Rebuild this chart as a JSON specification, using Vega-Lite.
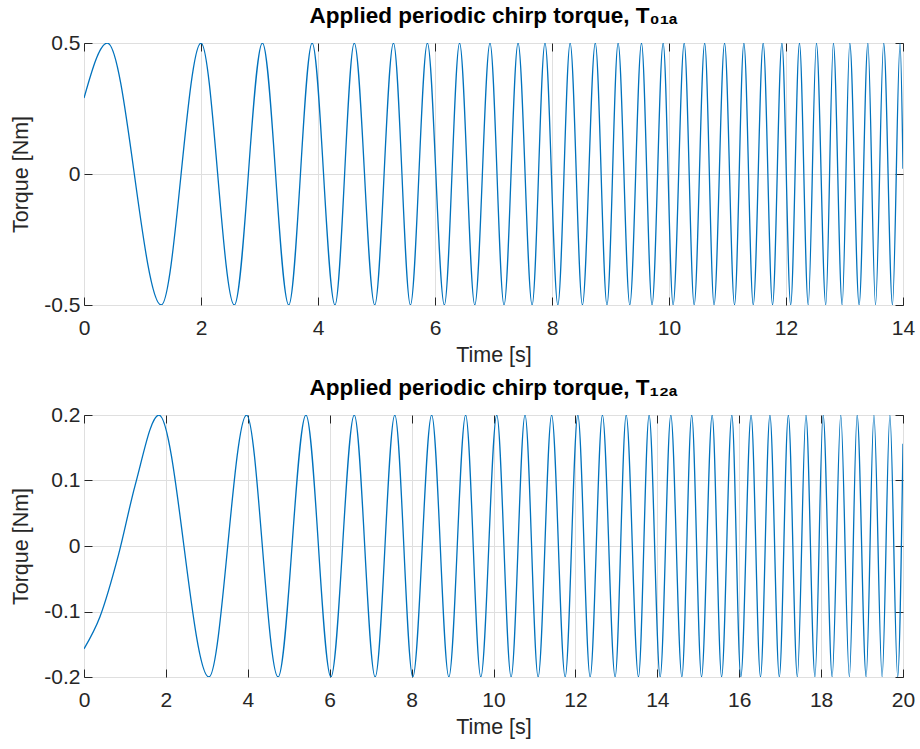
{
  "$schema": "https://vega.github.io/schema/vega-lite/v6.json",
  "background": "white",
  "padding": {"left": 10, "top": 4, "right": 10, "bottom": 2},
  "spacing": 10,
  "datasets": {
    "t01a": [
      {"t": 0, "v": 0.29}, {"t": 0.40, "v": 0.5}, {"t": 1.32, "v": -0.5}, {"t": 2.00, "v": 0.5},
      {"t": 2.57, "v": -0.5}, {"t": 3.05, "v": 0.5}, {"t": 3.50, "v": -0.5}, {"t": 3.90, "v": 0.5},
      {"t": 4.29, "v": -0.5}, {"t": 4.62, "v": 0.5}, {"t": 4.97, "v": -0.5}, {"t": 5.29, "v": 0.5},
      {"t": 5.58, "v": -0.5}, {"t": 5.87, "v": 0.5}, {"t": 6.16, "v": -0.5}, {"t": 6.42, "v": 0.5},
      {"t": 6.68, "v": -0.5}, {"t": 6.94, "v": 0.5}, {"t": 7.18, "v": -0.5}, {"t": 7.42, "v": 0.5},
      {"t": 7.66, "v": -0.5}, {"t": 7.88, "v": 0.5}, {"t": 8.10, "v": -0.5}, {"t": 8.31, "v": 0.5},
      {"t": 8.52, "v": -0.5}, {"t": 8.74, "v": 0.5}, {"t": 8.94, "v": -0.5}, {"t": 9.13, "v": 0.5},
      {"t": 9.33, "v": -0.5}, {"t": 9.53, "v": 0.5}, {"t": 9.71, "v": -0.5}, {"t": 9.90, "v": 0.5},
      {"t": 10.07, "v": -0.5}, {"t": 10.26, "v": 0.5}, {"t": 10.43, "v": -0.5}, {"t": 10.61, "v": 0.5},
      {"t": 10.77, "v": -0.5}, {"t": 10.95, "v": 0.5}, {"t": 11.12, "v": -0.5}, {"t": 11.28, "v": 0.5},
      {"t": 11.44, "v": -0.5}, {"t": 11.61, "v": 0.5}, {"t": 11.77, "v": -0.5}, {"t": 11.93, "v": 0.5},
      {"t": 12.08, "v": -0.5}, {"t": 12.23, "v": 0.5}, {"t": 12.38, "v": -0.5}, {"t": 12.52, "v": 0.5},
      {"t": 12.68, "v": -0.5}, {"t": 12.81, "v": 0.5}, {"t": 12.96, "v": -0.5}, {"t": 13.09, "v": 0.5},
      {"t": 13.25, "v": -0.5}, {"t": 13.40, "v": 0.5}, {"t": 13.53, "v": -0.5}, {"t": 13.67, "v": 0.5},
      {"t": 13.82, "v": -0.5}, {"t": 13.95, "v": 0.5}, {"t": 14.0, "v": 0.02}
    ],
    "t12a": [
      {"t": 0, "v": -0.157}, {"t": 0.39, "v": -0.108}, {"t": 0.84, "v": -0.014}, {"t": 1.25, "v": 0.093},
      {"t": 1.83, "v": 0.2}, {"t": 3.05, "v": -0.2}, {"t": 3.97, "v": 0.2}, {"t": 4.74, "v": -0.2},
      {"t": 5.42, "v": 0.2}, {"t": 6.03, "v": -0.2}, {"t": 6.60, "v": 0.2}, {"t": 7.11, "v": -0.2},
      {"t": 7.59, "v": 0.2}, {"t": 8.03, "v": -0.2}, {"t": 8.49, "v": 0.2}, {"t": 8.91, "v": -0.2},
      {"t": 9.32, "v": 0.2}, {"t": 9.69, "v": -0.2}, {"t": 10.08, "v": 0.2}, {"t": 10.43, "v": -0.2},
      {"t": 10.77, "v": 0.2}, {"t": 11.09, "v": -0.2}, {"t": 11.42, "v": 0.2}, {"t": 11.75, "v": -0.2},
      {"t": 12.06, "v": 0.2}, {"t": 12.36, "v": -0.2}, {"t": 12.66, "v": 0.2}, {"t": 12.97, "v": -0.2},
      {"t": 13.24, "v": 0.2}, {"t": 13.54, "v": -0.2}, {"t": 13.80, "v": 0.2}, {"t": 14.07, "v": -0.2},
      {"t": 14.33, "v": 0.2}, {"t": 14.60, "v": -0.2}, {"t": 14.84, "v": 0.2}, {"t": 15.08, "v": -0.2},
      {"t": 15.34, "v": 0.2}, {"t": 15.57, "v": -0.2}, {"t": 15.82, "v": 0.2}, {"t": 16.04, "v": -0.2},
      {"t": 16.29, "v": 0.2}, {"t": 16.52, "v": -0.2}, {"t": 16.75, "v": 0.2}, {"t": 16.98, "v": -0.2},
      {"t": 17.20, "v": 0.2}, {"t": 17.42, "v": -0.2}, {"t": 17.63, "v": 0.2}, {"t": 17.85, "v": -0.2},
      {"t": 18.05, "v": 0.2}, {"t": 18.27, "v": -0.2}, {"t": 18.48, "v": 0.2}, {"t": 18.69, "v": -0.2},
      {"t": 18.88, "v": 0.2}, {"t": 19.10, "v": -0.2}, {"t": 19.29, "v": 0.2}, {"t": 19.49, "v": -0.2},
      {"t": 19.68, "v": 0.2}, {"t": 19.87, "v": -0.2}, {"t": 20.0, "v": 0.156}
    ]
  },
  "vconcat": [
    {
      "width": 819,
      "height": 262,
      "title": {"text": "Applied periodic chirp torque, T₀₁ₐ"},
      "data": {"name": "t01a"},
      "layer": [
        {
          "mark": {"type": "line", "interpolate": "monotone", "color": "#0072BD", "strokeWidth": 1.3, "clip": true},
          "encoding": {
            "x": {"field": "t", "type": "quantitative", "scale": {"domain": [0, 14], "nice": false, "zero": false},
                  "axis": {"orient": "bottom", "values": [0, 2, 4, 6, 8, 10, 12, 14], "title": "Time [s]", "grid": true}},
            "y": {"field": "v", "type": "quantitative", "scale": {"domain": [-0.5, 0.5], "nice": false, "zero": false},
                  "axis": {"orient": "left", "values": [-0.5, 0, 0.5], "title": "Torque [Nm]", "grid": true,
                           "labelExpr": "replace(format(datum.value, '~g'), '−', '-')"}}
          }
        },
        {
          "mark": {"type": "line", "strokeOpacity": 0},
          "encoding": {
            "x": {"field": "t", "type": "quantitative",
                  "axis": {"orient": "top", "values": [0, 2, 4, 6, 8, 10, 12, 14], "labels": false, "title": null, "grid": false}},
            "y": {"field": "v", "type": "quantitative",
                  "axis": {"orient": "right", "values": [-0.5, 0, 0.5], "labels": false, "title": null, "grid": false}}
          }
        }
      ],
      "resolve": {"axis": {"x": "independent", "y": "independent"}}
    },
    {
      "width": 819,
      "height": 262,
      "title": {"text": "Applied periodic chirp torque, T₁₂ₐ"},
      "data": {"name": "t12a"},
      "layer": [
        {
          "mark": {"type": "line", "interpolate": "monotone", "color": "#0072BD", "strokeWidth": 1.3, "clip": true},
          "encoding": {
            "x": {"field": "t", "type": "quantitative", "scale": {"domain": [0, 20], "nice": false, "zero": false},
                  "axis": {"orient": "bottom", "values": [0, 2, 4, 6, 8, 10, 12, 14, 16, 18, 20], "title": "Time [s]", "grid": true}},
            "y": {"field": "v", "type": "quantitative", "scale": {"domain": [-0.2, 0.2], "nice": false, "zero": false},
                  "axis": {"orient": "left", "values": [-0.2, -0.1, 0, 0.1, 0.2], "title": "Torque [Nm]", "grid": true,
                           "labelExpr": "replace(format(datum.value, '~g'), '−', '-')"}}
          }
        },
        {
          "mark": {"type": "line", "strokeOpacity": 0},
          "encoding": {
            "x": {"field": "t", "type": "quantitative",
                  "axis": {"orient": "top", "values": [0, 2, 4, 6, 8, 10, 12, 14, 16, 18, 20], "labels": false, "title": null, "grid": false}},
            "y": {"field": "v", "type": "quantitative",
                  "axis": {"orient": "right", "values": [-0.2, -0.1, 0, 0.1, 0.2], "labels": false, "title": null, "grid": false}}
          }
        }
      ],
      "resolve": {"axis": {"x": "independent", "y": "independent"}}
    }
  ],
  "config": {
    "font": "Liberation Sans",
    "view": {"stroke": "#262626", "strokeWidth": 1},
    "title": {"font": "Liberation Sans", "fontSize": 22.5, "fontWeight": "bold", "color": "#000000", "anchor": "middle", "offset": 5},
    "axis": {
      "labelFont": "Liberation Sans", "labelFontSize": 21, "labelColor": "#262626",
      "titleFont": "Liberation Sans", "titleFontSize": 21.5, "titleFontWeight": "normal", "titleColor": "#262626",
      "tickColor": "#262626", "tickSize": -8, "tickWidth": 1, "domain": false,
      "gridColor": "#dfdfdf", "gridWidth": 1, "labelFlush": false, "labelOverlap": false
    },
    "axisX": {"labelPadding": 20, "titlePadding": 6},
    "axisY": {"labelPadding": 12, "titlePadding": 11}
  }
}
